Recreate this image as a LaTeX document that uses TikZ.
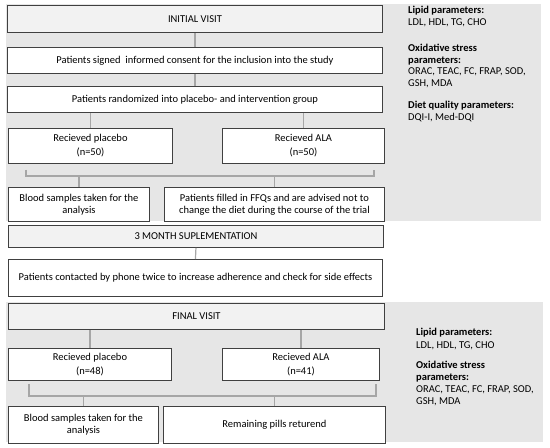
\documentclass[tikz,border=0pt]{standalone}
\usepackage{fontspec}
\setmainfont{Carlito}
\definecolor{panel}{HTML}{E6E6E6}
\definecolor{headfill}{HTML}{F2F2F2}
\definecolor{boxline}{HTML}{404040}
\definecolor{linkgray}{HTML}{A6A6A6}

\begin{document}
\begin{tikzpicture}[x=1pt, y=-1pt, font=\fontsize{10.5}{12}\selectfont,
        box/.style={draw=boxline, line width=0.9pt, fill=white, anchor=north west, align=center, inner sep=2pt},
        head/.style={box, fill=headfill},
        link/.style={draw=linkgray, line width=1.2pt},
        params/.style={anchor=north west, align=left, inner sep=0pt}]

        \useasboundingbox (0,0) rectangle (550,448);
        \fill[panel] (6,4) rectangle (541,221);
        \fill[panel] (6,302) rectangle (543,442);

        % first visit
        \node[head, minimum width=375, minimum height=27] (visitA) at (7,5) {INITIAL VISIT};
        \node[box, minimum width=375, minimum height=26] (consent) at (7,47) {Patients signed\ \ informed consent for the inclusion into the study};
        \node[box, minimum width=375, minimum height=26] (random) at (7,86) {Patients randomized into placebo- and intervention group};
        \node[box, minimum width=164, minimum height=35] (placA) at (8,128) {Recieved placebo\\[2pt](n=50)};
        \node[box, minimum width=162, minimum height=35] (alaA) at (222,128) {Recieved ALA\\[2pt](n=50)};
        \node[box, minimum width=141, minimum height=34] (bloodA) at (8,187) {Blood samples taken for the\\analysis};
        \node[box, minimum width=220, minimum height=34] (ffq) at (164,187) {Patients filled in FFQs and are advised not to\\change the diet during the course of the trial};
        \node[head, minimum width=375, minimum height=22] (month) at (8,225) {3 MONTH SUPLEMENTATION};
        \node[box, minimum width=374, minimum height=37] (phone) at (8,259) {Patients contacted by phone twice to increase adherence and check for side effects};

        % final visit
        \node[head, minimum width=376, minimum height=26] (visitB) at (8,303) {FINAL VISIT};
        \node[box, minimum width=163, minimum height=32] (placB) at (8,348) {Recieved placebo\\[2pt](n=48)};
        \node[box, minimum width=157, minimum height=32] (alaB) at (222,348) {Recieved ALA\\[2pt](n=41)};
        \node[box, minimum width=150, minimum height=37] (bloodB) at (8,406) {Blood samples taken for the\\analysis};
        \node[box, minimum width=222, minimum height=37] (remain) at (163,406) {Remaining pills returend};

        \draw[link] (visitA.south) -- (consent.north);
        \draw[link] (consent.south) -- (random.north);
        \draw[link] (random.south -| placA.north) -- (placA.north);
        \draw[link] (random.south -| alaA.north) -- (alaA.north);
        \coordinate (brA1) at (26,176);
        \coordinate (brA2) at (374,176);
        \draw[link] ([yshift=-6pt]placA.south -| brA1) -- (brA1) -- (brA2) -- ([yshift=-6pt]alaA.south -| brA2);
        \draw[link] (bloodA.north |- brA1) -- (bloodA.north);
        \draw[link] (ffq.north |- brA1) -- (ffq.north);
        \draw[link] (month.south) -- (phone.north);

        \draw[link] (visitB.south -| placB.north) -- (placB.north);
        \draw[link] (visitB.south -| alaB.north) -- (alaB.north);
        \coordinate (brB1) at (29,396);
        \coordinate (brB2) at (376,396);
        \draw[link] ([yshift=-3pt]placB.south -| brB1) -- (brB1) -- (brB2) -- ([yshift=-3pt]alaB.south -| brB2);
        \draw[link] (bloodB.north |- brB1) -- (bloodB.north);
        \draw[link] (remain.north |- brB1) -- (remain.north);

        % measured parameters
        \node[params, font=\fontsize{10.5}{11.5}\selectfont] (parA) at (408,6) {\textbf{Lipid parameters:}\\LDL, HDL, TG, CHO\\[15pt]\textbf{Oxidative stress}\\\textbf{parameters:}\\ORAC, TEAC, FC, FRAP, SOD,\\GSH, MDA\\[11pt]\textbf{Diet quality parameters:}\\DQI-I, Med-DQI};
        \node[params] (parB) at (416,328) {\textbf{Lipid parameters:}\\[1pt]LDL, HDL, TG, CHO\\[8pt]\textbf{Oxidative stress}\\\textbf{parameters:}\\ORAC, TEAC, FC, FRAP, SOD,\\GSH, MDA};
    \end{tikzpicture}
\end{document}
